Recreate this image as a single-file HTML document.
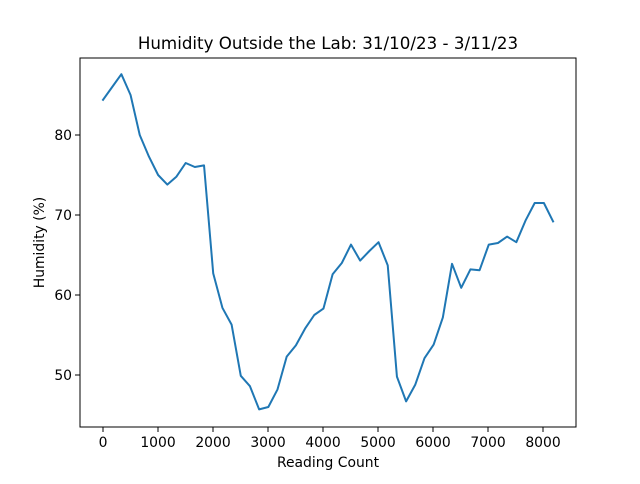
<!DOCTYPE html>
<html><head><meta charset="utf-8"><style>
body{margin:0;background:#fff;font-family:"DejaVu Sans","Liberation Sans",sans-serif}
svg text{font-family:"DejaVu Sans","Liberation Sans",sans-serif;fill:#000}
</style></head><body>
<svg id="chart" width="640" height="480" xmlns="http://www.w3.org/2000/svg">
<rect width="640" height="480" fill="#fff"/>
<text x="328" y="49" font-size="16.7" text-anchor="middle">Humidity Outside the Lab: 31/10/23 - 3/11/23</text>
<g id="xt"></g><g id="yt"></g>
<polyline id="line" fill="none" stroke="#1f77b4" stroke-width="2" stroke-linejoin="round" stroke-linecap="square"/>
<rect x="80" y="58" width="496" height="369" fill="none" stroke="#000" stroke-width="1"/>
<text x="328" y="467" font-size="13.9" text-anchor="middle">Reading Count</text>
<text transform="translate(44,242.5) rotate(-90)" font-size="13.9" text-anchor="middle">Humidity (%)</text>
</svg>
<script>
const step = 167;
const humidity = [84.4,86,87.6,85,80,77.3,75,73.8,74.8,76.5,76,76.2,62.7,58.4,56.3,49.9,48.6,45.7,46,48.2,52.3,53.7,55.8,57.5,58.3,62.6,64,66.3,64.3,65.5,66.6,63.7,49.8,46.7,48.8,52.1,53.8,57.2,63.9,60.9,63.2,63.1,66.3,66.5,67.3,66.6,69.3,71.5,71.5,69.2];
const xTicks = [0,1000,2000,3000,4000,5000,6000,7000,8000];
const yTicks = [50,60,70,80];
function X(v){return 103+v*0.055;}
function Y(v){return 135+(80-v)*8;}
const ns="http://www.w3.org/2000/svg";
document.getElementById('line').setAttribute('points',humidity.map((v,i)=>X(i*step).toFixed(2)+','+Y(v).toFixed(2)).join(' '));
const xt=document.getElementById('xt');
xTicks.forEach(t=>{
 const l=document.createElementNS(ns,'line');
 
 
 l.setAttribute('x1',X(t));l.setAttribute('x2',X(t));l.setAttribute('y1',427);l.setAttribute('y2',432);l.setAttribute('stroke','#000');l.setAttribute('stroke-width','1');xt.appendChild(l);
 const s=document.createElementNS(ns,'text');
 
 
 s.setAttribute('x',X(t));s.setAttribute('y',447);s.setAttribute('font-size','13.9');s.setAttribute('text-anchor','middle');s.textContent=t;xt.appendChild(s);
});
const yt=document.getElementById('yt');
yTicks.forEach(t=>{
 const l=document.createElementNS(ns,'line');
 
 
 l.setAttribute('x1',75);l.setAttribute('x2',80);l.setAttribute('y1',Y(t));l.setAttribute('y2',Y(t));l.setAttribute('stroke','#000');l.setAttribute('stroke-width','1');yt.appendChild(l);
 const s=document.createElementNS(ns,'text');
 
 
 s.setAttribute('x',72);s.setAttribute('y',Y(t)+5);s.setAttribute('font-size','13.9');s.setAttribute('text-anchor','end');s.textContent=t;yt.appendChild(s);
});
</script>
</body></html>
